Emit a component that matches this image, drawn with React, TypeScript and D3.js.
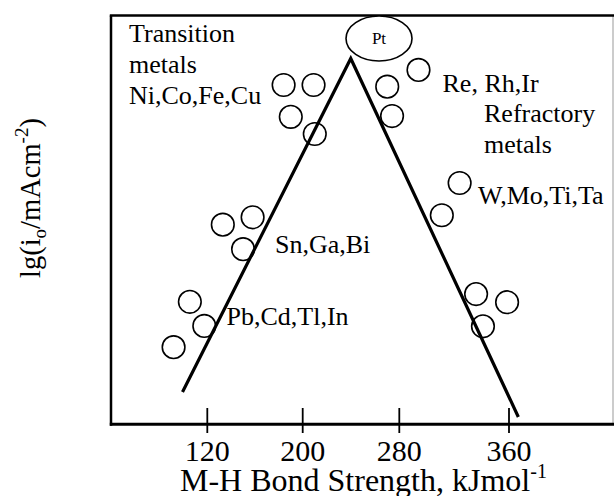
import React from 'react';
import * as d3 from 'd3';

// M-H bond strength (kJ/mol) of each metal point
const pointBond = [184, 209, 190, 210, 294, 270, 274, 324, 311, 133, 158, 150, 105.5, 117.5, 92, 336, 358.6, 341];
// lg(i0) (arbitrary scale, no ticks shown)
const pointLgI = [8.31, 8.31, 7.53, 7.11, 8.68, 8.27, 7.55, 5.91, 5.12, 4.89, 5.07, 4.29, 3.0, 2.41, 1.89, 3.19, 2.99, 2.4];

// volcano lines
const volcanoBond = [99.4, 239.8, 366.8];
const volcanoLgI = [0.79, 8.96, 0.18];

// Pt marker
const ptBond = [263.2];
const ptLgI = [9.45];

const xTicks = [120, 200, 280, 360];
const xTickLabels = ['120', '200', '280', '360'];

const W = 614;
const H = 496;
const left = 111;
const right = 613;
const top = 15.5;
const bottom = 424.3;

const FONT = '"Liberation Serif", "Times New Roman", serif';

export default function App() {
  // the original hand-drawn axis is not evenly spaced; use a polylinear scale
  const x = d3
    .scaleLinear()
    .domain([40, 120, 200, 280, 360, 435])
    .range([111, 207.3, 302.7, 399.3, 509, 612]);
  const y = d3.scaleLinear().domain([0, 10]).range([bottom, 16]);

  const line = d3
    .line<number>()
    .x((d) => x(volcanoBond[d]))
    .y((d) => y(volcanoLgI[d]));

  return (
    <svg
      width={W}
      height={H}
      style={{ position: 'absolute', left: 0, top: 0, background: '#fff' }}
      fontFamily={FONT}
    >
      <rect x={0} y={0} width={W} height={H} fill="#fff" />
      {/* frame */}
      <line x1={right} y1={top} x2={right} y2={bottom} stroke="#999" strokeWidth={1} />
      <line x1={left - 1.2} y1={top} x2={W} y2={top} stroke="#000" strokeWidth={2.5} />
      <line x1={left} y1={top} x2={left} y2={bottom + 1.5} stroke="#000" strokeWidth={2.5} />
      <line x1={left - 1.2} y1={bottom} x2={W} y2={bottom} stroke="#000" strokeWidth={3} />

      {/* ticks */}
      {xTicks.map((t, i) => (
        <g key={t}>
          <line x1={x(t)} x2={x(t)} y1={408} y2={433} stroke="#000" strokeWidth={1.8} />
          <text x={x(t)} y={461} textAnchor="middle" fontSize={30}>
            {xTickLabels[i]}
          </text>
        </g>
      ))}

      {/* volcano lines */}
      <path d={line([0, 1, 2]) || ''} fill="none" stroke="#000" strokeWidth={3.2} />

      {/* points */}
      {pointBond.map((b, i) => (
        <circle
          key={i}
          cx={x(b)}
          cy={y(pointLgI[i])}
          r={11.3}
          fill="#fff"
          fillOpacity={0}
          stroke="#000"
          strokeWidth={1.6}
        />
      ))}

      {/* Pt */}
      <ellipse cx={x(ptBond[0])} cy={y(ptLgI[0])} rx={33} ry={22.5} fill="#fff" stroke="#000" strokeWidth={1.6} />
      <text x={x(ptBond[0])} y={y(ptLgI[0]) + 6} textAnchor="middle" fontSize={17}>
        Pt
      </text>

      {/* annotations */}
      <g fontSize={26}>
        <text x={129} y={41.5}>Transition</text>
        <text x={129} y={73}>metals</text>
        <text x={129} y={103.5}>Ni,Co,Fe,Cu</text>
        <text x={442.5} y={91.5}>Re, Rh,Ir</text>
        <text x={484} y={122}>Refractory</text>
        <text x={484} y={153}>metals</text>
        <text x={478} y={203.5}>W,Mo,Ti,Ta</text>
        <text x={275} y={252.5}>Sn,Ga,Bi</text>
        <text x={226.5} y={325}>Pb,Cd,Tl,In</text>
      </g>

      {/* x axis title */}
      <text x={180} y={491} fontSize={32}>
        M-H Bond Strength, kJmol
        <tspan fontSize={20} dy={-13}>-1</tspan>
      </text>

      {/* y axis title */}
      <text
        transform={`translate(40, 198) rotate(-90)`}
        textAnchor="middle"
        fontSize={28.5}
      >
        lg(i
        <tspan fontSize={19} dy={6}>o</tspan>
        <tspan dy={-6}>/mAcm</tspan>
        <tspan fontSize={19} dy={-12}>-2</tspan>
        <tspan dy={12}>)</tspan>
      </text>
    </svg>
  );
}
